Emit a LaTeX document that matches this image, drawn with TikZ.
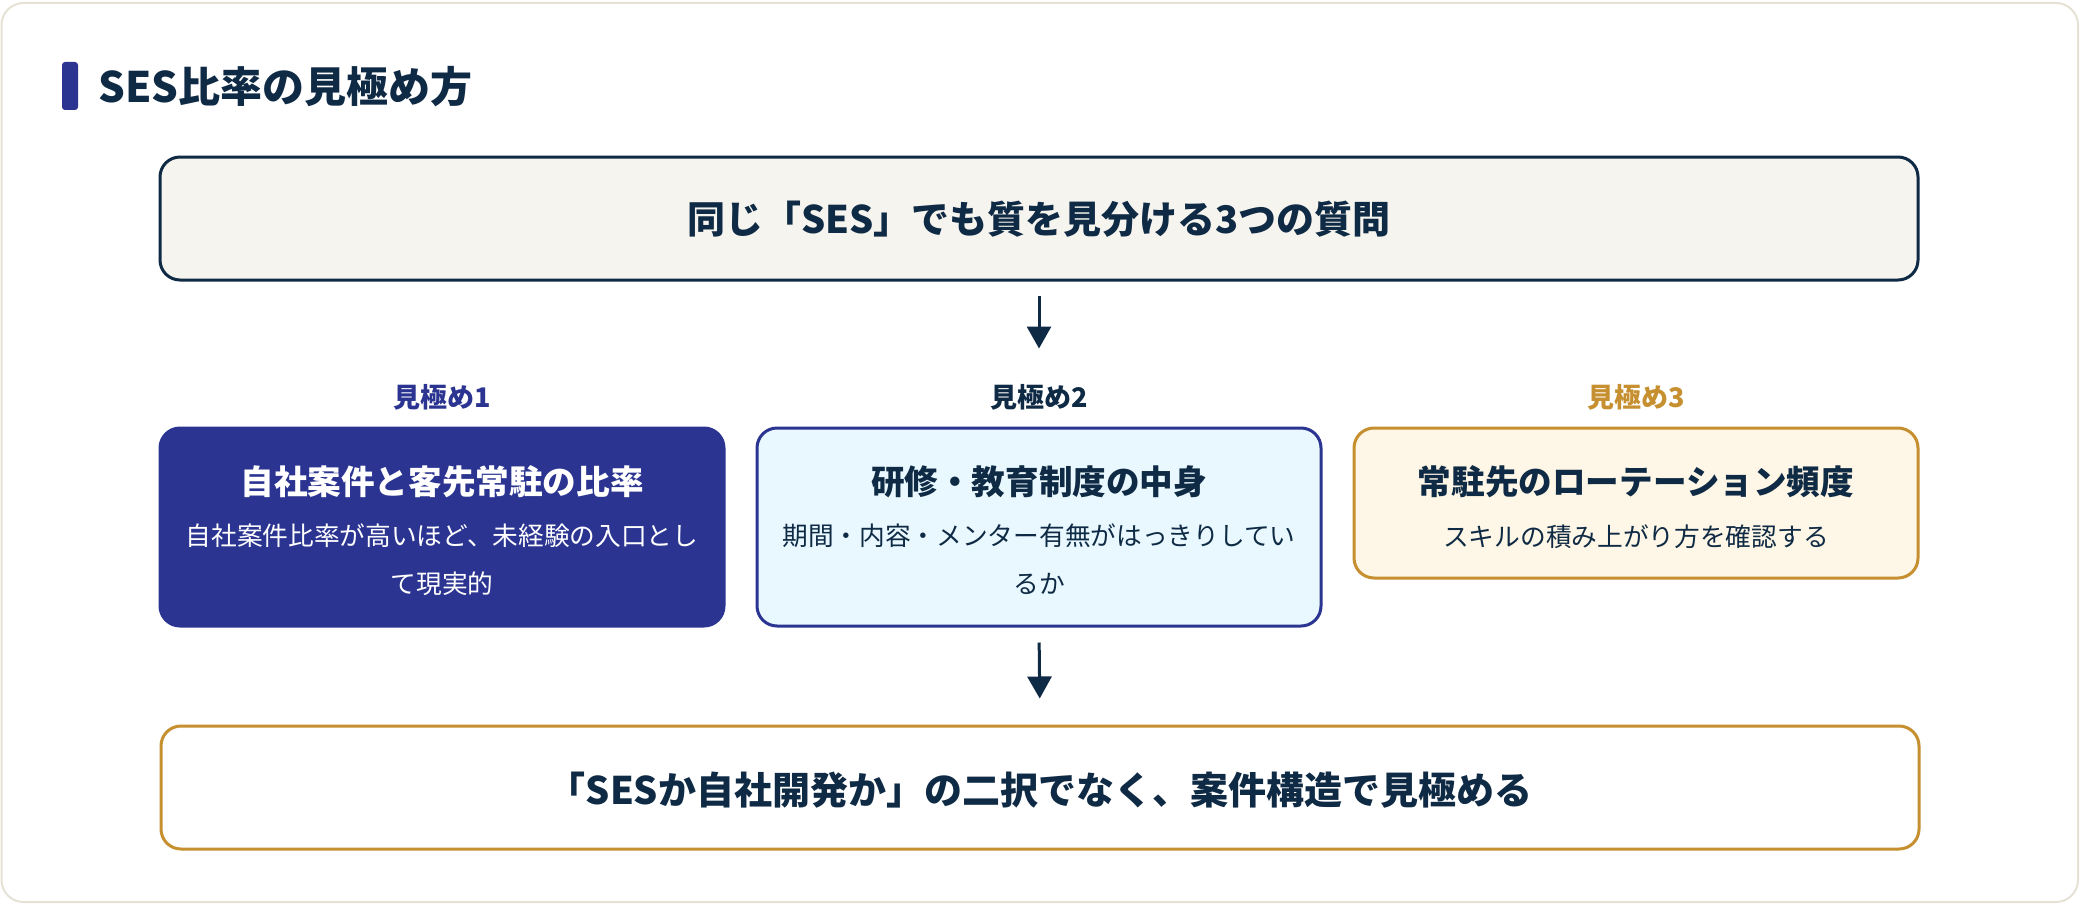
\documentclass[tikz,border=0pt]{standalone}
\usepackage{fontspec}
\setmainfont{Noto Sans CJK JP}
\usetikzlibrary{arrows.meta}
\definecolor{navy}{HTML}{0F2A44}
\definecolor{blue}{HTML}{2B3591}
\definecolor{gold}{HTML}{C68F2F}
\definecolor{cyanfill}{HTML}{E8F8FE}
\definecolor{creamfill}{HTML}{FEF6E6}
\definecolor{topfill}{HTML}{F5F4EF}
\definecolor{cardline}{HTML}{E5E2D5}
\tikzset{
  card/.style={draw=cardline, line width=1pt, fill=white, rounded corners=11pt},
  bigbox/.style={rectangle, rounded corners=10pt, line width=1.5pt, minimum width=879pt, minimum height=61.5pt, inner sep=0pt},
  qbox/.style={rectangle, rounded corners=10pt, line width=1.5pt, minimum width=282pt, inner sep=0pt},
  bigtext/.style={font=\fontsize{19}{23}\selectfont\bfseries, text=navy, inner sep=0pt},
  lab/.style={font=\fontsize{13.5}{16}\selectfont\bfseries, inner sep=0pt},
  qtitle/.style={font=\fontsize{16.8}{20}\selectfont\bfseries, inner sep=0pt},
  qsub/.style={font=\fontsize{12.85}{24}\selectfont, align=center, inner sep=0pt},
  arr/.style={draw=navy, line width=1.5pt, -{Triangle[width=12pt,length=11pt]}}
}
\begin{document}
\begin{tikzpicture}[x=0.5pt,y=-0.5pt]
\useasboundingbox (0,0) rectangle (2080,904);
\draw[card] (1.5,3) rectangle (2078,902);
% title
\fill[blue, rounded corners=1.5pt] (62,62) rectangle (78,110);
\node[anchor=west, font=\fontsize{21}{25}\selectfont\bfseries, text=navy, inner sep=0pt] (title) at (98,87) {SES比率の見極め方};
% top box
\node[bigbox, draw=navy, fill=topfill] (top) at (1039,218.5) {};
\node[bigtext] (toptext) at (1039,219) {同じ「SES」でも質を見分ける3つの質問};
% labels
\node[lab, text=blue] (lab1) at (442,397) {見極め1};
\node[lab, text=navy] (lab2) at (1039,397) {見極め2};
\node[lab, text=gold] (lab3) at (1636,397) {見極め3};
% boxes
\node[qbox, minimum height=99pt, draw=blue, fill=blue] (b1) at (442,527) {};
\node[qbox, minimum height=99pt, draw=blue, fill=cyanfill] (b2) at (1039,527) {};
\node[qbox, minimum height=75pt, draw=gold, fill=creamfill] (b3) at (1636,503) {};
\node[qtitle, text=white] (t1) at (442,482) {自社案件と客先常駐の比率};
\node[qsub, text=white] (s1) at (442,559.5) {自社案件比率が高いほど、未経験の入口とし\\て現実的};
\node[qtitle, text=navy] (t2) at (1039,482) {研修・教育制度の中身};
\node[qsub, text=navy] (s2) at (1039,559.5) {期間・内容・メンター有無がはっきりしてい\\るか};
\node[qtitle, text=navy] (t3) at (1636,482) {常駐先のローテーション頻度};
\node[qsub, text=navy] (s3) at (1636,537) {スキルの積み上がり方を確認する};
% bottom box
\node[bigbox, draw=gold, fill=white] (bot) at (1040,787.5) {};
\node[bigtext] (bottext) at (1040,790) {「SESか自社開発か」の二択でなく、案件構造で見極める};
% arrows
\draw[arr, shorten <=7pt, shorten >=39pt] (top.south) -- (b2.north);
\draw[arr, shorten <=7.5pt, shorten >=13pt] (b2.south) -- (bot.north);
\end{tikzpicture}
\end{document}
